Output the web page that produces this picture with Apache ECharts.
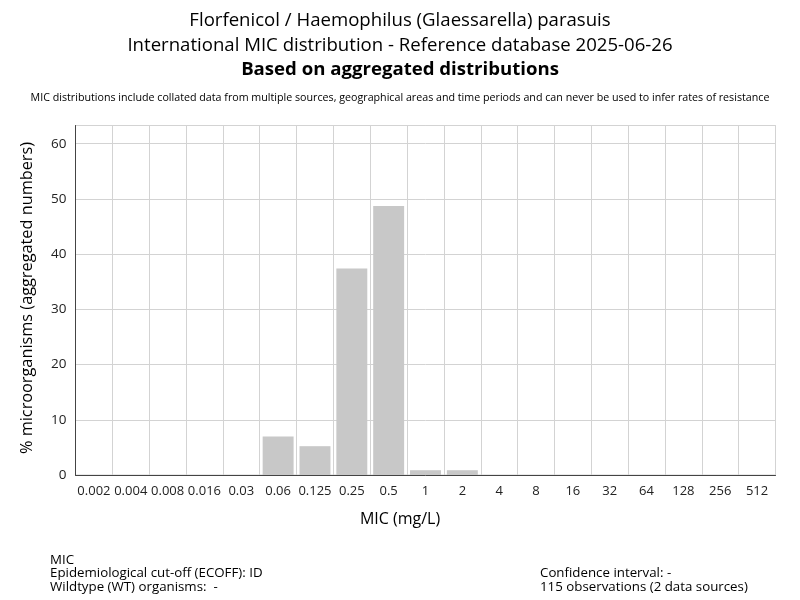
<!DOCTYPE html>
<html>
<head>
<meta charset="utf-8">
<script src="https://cdn.jsdelivr.net/npm/echarts@6/dist/echarts.min.js"></script>
<style>
html,body{margin:0;padding:0;background:#fff;}
#chart{width:800px;height:600px;}
</style>
</head>
<body>
<div id="chart"></div>
<script>
const categories = ['0.002','0.004','0.008','0.016','0.03','0.06','0.125','0.25','0.5','1','2','4','8','16','32','64','128','256','512'];
const percentValues = [0,0,0,0,0,6.96,5.22,37.39,48.70,0.87,0.87,0,0,0,0,0,0,0,0];
const yTicks = [0,10,20,30,40,50,60];

const FONT = '"Open Sans", "Noto Sans", sans-serif';
const chart = echarts.init(document.getElementById('chart'), null, {renderer:'canvas'});
chart.setOption({
  animation: false,
  backgroundColor: '#ffffff',
  title: [
    {text: 'Florfenicol / Haemophilus (Glaessarella) parasuis', left: 'center', top: 6,
     textStyle: {fontFamily: FONT, fontSize: 18.6, fontWeight: 'normal', color: '#000'}},
    {text: 'International MIC distribution - Reference database 2025-06-26', left: 'center', top: 31,
     textStyle: {fontFamily: FONT, fontSize: 18.6, fontWeight: 'normal', color: '#000'}},
    {text: 'Based on aggregated distributions', left: 'center', top: 55,
     textStyle: {fontFamily: FONT, fontSize: 18.6, fontWeight: 'bold', color: '#000'}},
    {text: 'MIC distributions include collated data from multiple sources, geographical areas and time periods and can never be used to infer rates of resistance', left: 'center', top: 87,
     textStyle: {fontFamily: FONT, fontSize: 10.7, fontWeight: 'normal', color: '#000'}}
  ],
  grid: {left: 75.5, right: 24.5, top: 125.5, bottom: 125, show: true, borderColor: '#d3d3d3', borderWidth: 1, backgroundColor: 'transparent'},
  xAxis: {
    type: 'category',
    data: categories,
    axisLine: {show: true, lineStyle: {color: '#444', width: 1}},
    axisTick: {show: false},
    axisLabel: {interval: 0, fontFamily: FONT, fontSize: 13, color: '#222', margin: 10},
    splitLine: {show: true, interval: 0, lineStyle: {color: '#d3d3d3', width: 1}}
  },
  yAxis: {
    type: 'value',
    min: 0, max: 63.3, interval: 10,
    axisLine: {show: true, lineStyle: {color: '#444', width: 1}},
    axisTick: {show: false},
    axisLabel: {fontFamily: FONT, fontSize: 13.5, color: '#222', margin: 9, showMaxLabel: false,
      formatter: function(v){ return yTicks.indexOf(v) >= 0 ? String(v) : ''; }},
    splitLine: {show: true, lineStyle: {color: '#d3d3d3', width: 1}}
  },
  series: [{
    type: 'bar',
    data: percentValues,
    barCategoryGap: '16%',
    itemStyle: {color: '#c8c8c8'}
  }],
  graphic: [
    {type: 'text', left: 'center', top: 511,
     style: {text: 'MIC (mg/L)', font: '16px ' + FONT, fill: '#000'}},
    {type: 'text', x: 27, y: 298, rotation: Math.PI/2,
     style: {text: '% microorganisms (aggregated numbers)', font: '16.3px ' + FONT, fill: '#000', align: 'center', verticalAlign: 'middle'}},
    {type: 'text', left: 50, top: 553,
     style: {text: 'MIC\nEpidemiological cut-off (ECOFF): ID\nWildtype (WT) organisms:  -', font: '13.3px ' + FONT, fill: '#000', lineHeight: 13.5}},
    {type: 'text', left: 540, top: 566.5,
     style: {text: 'Confidence interval: -\n115 observations (2 data sources)', font: '13.3px ' + FONT, fill: '#000', lineHeight: 13.5}}
  ]
});
</script>
</body>
</html>
